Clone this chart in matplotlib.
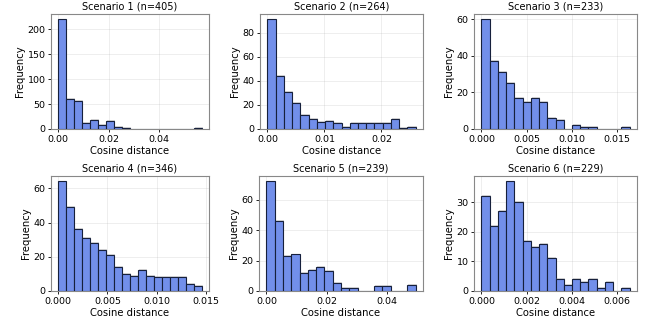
import numpy as np
import matplotlib
matplotlib.use("Agg")
import matplotlib.pyplot as plt
import matplotlib.patheffects as pe

titles = ["Scenario 1 (n=405)", "Scenario 2 (n=264)", "Scenario 3 (n=233)",
          "Scenario 4 (n=346)", "Scenario 5 (n=239)", "Scenario 6 (n=229)"]

counts_1 = [220, 61, 57, 12, 18, 9, 16, 5, 3, 0, 0, 1, 0, 0, 0, 0, 1, 2]
counts_2 = [91, 44, 31, 22, 12, 8, 6, 7, 5, 2, 5, 5, 5, 5, 5, 8, 1, 2]
counts_3 = [60, 37, 31, 25, 17, 15, 17, 15, 6, 5, 0, 2, 1, 1, 0, 0, 0, 1]
counts_4 = [64, 49, 36, 31, 28, 24, 21, 14, 10, 9, 12, 9, 8, 8, 8, 8, 4, 3]
counts_5 = [72, 46, 23, 24, 12, 14, 16, 13, 5, 2, 2, 0, 0, 3, 3, 0, 0, 4]
counts_6 = [32, 22, 27, 37, 30, 17, 15, 16, 11, 4, 2, 4, 3, 4, 1, 3, 0, 1]

range_min = [0.0, 0.0, 0.0, 0.0, 0.0, 0.0]
range_max = [0.0568, 0.0260, 0.01643, 0.01457, 0.0494, 0.00657]

all_counts = [counts_1, counts_2, counts_3, counts_4, counts_5, counts_6]

# axes positions in pixels: left, right, top, bottom
W, H = 649, 324
boxes = [(51, 209, 14, 129), (260, 423, 14, 129), (474, 637, 14, 129),
         (51, 209, 176, 291), (259, 423, 176, 291), (474, 637, 176, 291)]

fig = plt.figure(figsize=(W / 100, H / 100), dpi=100)

for i in range(6):
    l, r, t, b = boxes[i]
    ax = fig.add_axes([l / W, 1 - b / H, (r - l) / W, (b - t) / H])
    edges = np.linspace(range_min[i], range_max[i], len(all_counts[i]) + 1)
    centers = (edges[:-1] + edges[1:]) / 2
    _, _, patches = ax.hist(centers, bins=edges, weights=all_counts[i],
                            facecolor="#728FEA", edgecolor="#16203c",
                            linewidth=0.8, zorder=3)
    for p in patches:
        p.set_path_effects([pe.SimplePatchShadow(offset=(0.7, 0.7),
                                                 shadow_rgbFace="gray", alpha=0.3),
                            pe.Normal()])
    ax.set_title(titles[i], fontsize=7, pad=3)
    ax.set_xlabel("Cosine distance", fontsize=7.2, labelpad=1.5)
    ax.set_ylabel("Frequency", fontsize=7.2, labelpad=1.5)
    ax.tick_params(labelsize=6.8, length=2.5, width=0.6, pad=1.5)
    ax.grid(True, alpha=0.3, linewidth=0.5, zorder=0)
    ax.set_axisbelow(True)
    for s in ax.spines.values():
        s.set_color("#888888")
        s.set_linewidth(0.8)

fig.savefig("out.png", dpi=100)
